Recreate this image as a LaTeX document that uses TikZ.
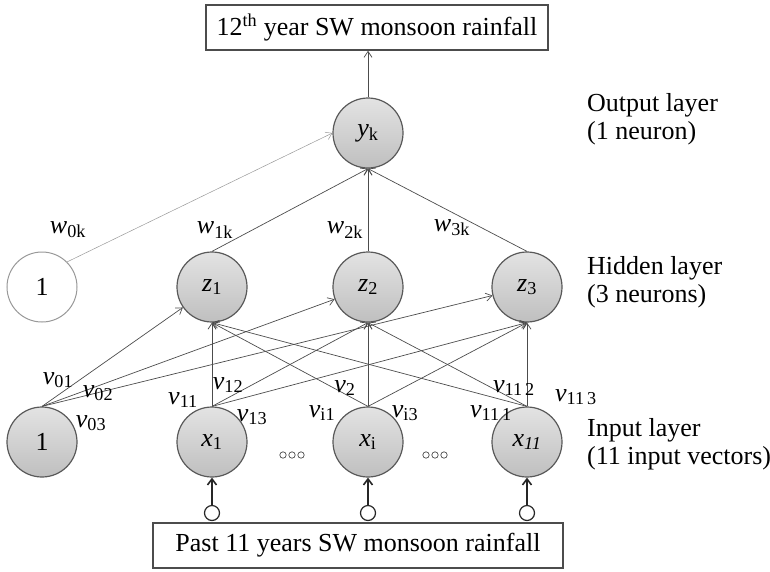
\documentclass[tikz,border=0pt]{standalone}
\usepackage{fontspec}
\setmainfont{Liberation Serif}
\usetikzlibrary{arrows.meta}

\tikzset{
  neuron/.style={circle, draw=black!65, line width=1.2pt, minimum size=70pt, inner sep=0pt,
    top color=gray!22, middle color=white, bottom color=gray!50},
  biasnode/.style={circle, draw=black!40, line width=1pt, minimum size=70pt, inner sep=0pt, fill=white},
  databox/.style={draw=black!70, line width=1.5pt, minimum height=45pt, inner sep=0pt},
  port/.style={circle, draw=black!85, line width=1.2pt, minimum size=15pt, inner sep=0pt, fill=white},
  wire/.style={draw=black!70, line width=0.7pt, -{Straight Barb[length=6pt,width=8pt]}},
  feed/.style={draw=black!85, line width=1.6pt, -{Straight Barb[length=6pt,width=9pt]}},
  layertext/.style={align=left, anchor=west, inner sep=0pt}
}
\newcommand{\wsub}[2]{\textit{#1}\textsubscript{#2}}

\begin{document}
\begin{tikzpicture}[x=1pt, y=-1pt, font=\fontsize{26}{28}\selectfont]
\useasboundingbox (0,0) rectangle (770,571);

\node[databox, minimum width=342pt] (target) at (377,27.5) {12\textsuperscript{th} year SW monsoon rainfall};
\node[databox, minimum width=410pt] (past) at (358,545.5) {Past 11 years SW monsoon rainfall};

\node[neuron] (yk) at (368,133) {\wsub{y}{k}};

\node[biasnode] (h0) at (42,287) {1};
\node[neuron] (z1) at (212,287) {\wsub{z}{1}};
\node[neuron] (z2) at (368,287) {\wsub{z}{2}};
\node[neuron] (z3) at (527,287) {\wsub{z}{3}};

\node[neuron] (b0) at (42,442) {1};
\node[neuron] (x1) at (212,442) {\wsub{x}{1}};
\node[neuron] (xi) at (368,442) {\wsub{x}{i}};
\node[neuron] (x11) at (527,442) {\wsub{x}{\textit{11}}};

\node[port] (p1) at (212,513) {};
\node[port] (pi) at (368,513) {};
\node[port] (p11) at (527,513) {};

\foreach \c in {292,435}
  \foreach \d in {-9,0,9}
    \draw[black!70, line width=0.7pt] (\c+\d,455) circle (3.2pt);

\foreach \h in {z1,z2,z3}
  \draw[wire] (b0.north) -- (\h);
\foreach \s in {x1,xi,x11}
  \foreach \h in {z1,z2,z3}
    \draw[wire] (\s.north) -- (\h.south);
\foreach \h in {z1,z2,z3}
  \draw[wire] (\h.north) -- (yk.south);
\draw[wire, draw=black!40, line width=0.5pt] (h0.north east) -- (yk.west);
\draw[wire] (yk) -- (yk |- target.south);

\foreach \p/\s in {p1/x1,pi/xi,p11/x11}
  \draw[feed] (\p) -- (\s);

\node (w0k) at (68,230) {\wsub{w}{0k}};
\node (w1k) at (215,230) {\wsub{w}{1k}};
\node (w2k) at (345,230) {\wsub{w}{2k}};
\node (w3k) at (452,228) {\wsub{w}{3k}};

\node (v01) at (58,380) {\wsub{v}{01}};
\node (v02) at (98,393) {\wsub{v}{02}};
\node (v03) at (91,423) {\wsub{v}{03}};
\node (v11) at (183,400) {\wsub{v}{11}};
\node (v12) at (228,385) {\wsub{v}{12}};
\node (v13) at (252,417) {\wsub{v}{13}};
\node (vi1) at (322,413) {\wsub{v}{i1}};
\node (vi2) at (345,388) {\wsub{v}{2}};
\node (vi3) at (405,413) {\wsub{v}{i3}};
\node (v111) at (491,413) {\wsub{v}{11\,1}};
\node (v112) at (514,388) {\wsub{v}{11\,2}};
\node (v113) at (576,397) {\wsub{v}{11\,3}};

\node[layertext] (outlbl) at (587,119) {Output layer\\(1 neuron)};
\node[layertext] (hidlbl) at (587,282) {Hidden layer\\(3 neurons)};
\node[layertext] (inlbl) at (587,444) {Input layer\\(11 input vectors)};
\end{tikzpicture}
\end{document}
